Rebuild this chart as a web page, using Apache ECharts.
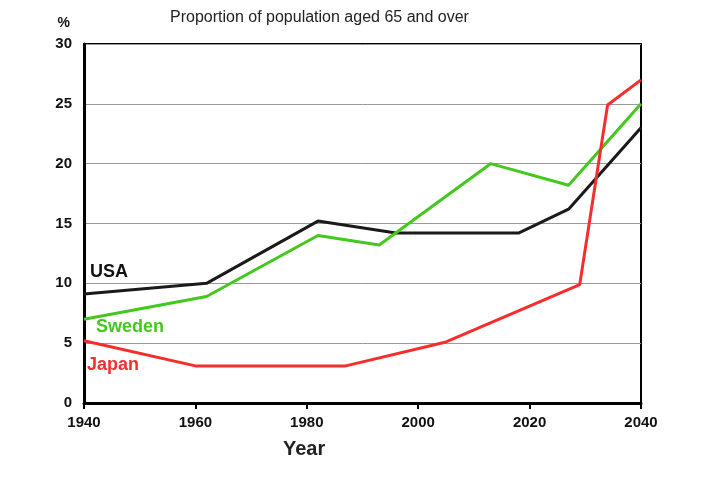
<!DOCTYPE html>
<html>
<head>
<meta charset="utf-8">
<script src="https://cdn.jsdelivr.net/npm/echarts@6/dist/echarts.min.js"></script>
<style>
  html, body { margin: 0; padding: 0; background: #fff; }
  #chart { width: 720px; height: 480px; }
</style>
</head>
<body>
<div id="chart"></div>
<script>
// values
const usaYears = [1940, 1962, 1982, 1996, 2018, 2027, 2040];
const usaValues = [9.1, 10.0, 15.2, 14.2, 14.2, 16.2, 23.0];

const swedenYears = [1940, 1962, 1982, 1993, 2013, 2027, 2040];
const swedenValues = [7.0, 8.9, 14.0, 13.2, 20.0, 18.2, 25.0];

const japanYears = [1940, 1960, 1987, 2005, 2029, 2034, 2040];
const japanValues = [5.2, 3.1, 3.1, 5.1, 9.9, 24.9, 27.0];

const xTicks = [1940, 1960, 1980, 2000, 2020, 2040];

const pairs = (xs, ys) => xs.map((x, i) => [x, ys[i]]);

const chart = echarts.init(document.getElementById('chart'));

const fontFamily = '"Liberation Sans", Arial, sans-serif';

const option = {
    animation: false,
    backgroundColor: '#fff',
    textStyle: { fontFamily: fontFamily },
    grid: {
        left: 84,
        right: 79,
        top: 44,
        bottom: 77,
        show: true,
        borderColor: '#000',
        borderWidth: 2
    },
    xAxis: {
        type: 'value',
        min: xTicks[0],
        max: xTicks[xTicks.length - 1],
        interval: 20,
        axisLine: { show: true, lineStyle: { color: '#000', width: 3 } },
        axisTick: { show: true, length: 6, lineStyle: { color: '#000', width: 2 } },
        axisLabel: {
            color: '#111',
            fontWeight: 'bold',
            fontSize: 15,
            margin: 12,
            formatter: (v) => String(v)
        },
        splitLine: { show: false }
    },
    yAxis: {
        type: 'value',
        min: 0,
        max: 30,
        interval: 5,
        name: '%',
        nameLocation: 'end',
        nameGap: 14,
        nameTextStyle: { color: '#111', fontWeight: 'bold', fontSize: 14, align: 'right', padding: [0, 14, 0, 0] },
        axisLine: { show: true, lineStyle: { color: '#000', width: 3 } },
        axisTick: { show: false },
        axisLabel: { color: '#111', fontWeight: 'bold', fontSize: 15, margin: 12 },
        splitLine: { show: true, lineStyle: { color: '#999', width: 1 } }
    },
    graphic: [
        {
            type: 'text',
            left: 170,
            top: 10,
            style: { text: 'Proportion of population aged 65 and over', font: '16px ' + fontFamily, fill: '#222' }
        },
        {
            type: 'text',
            left: 283,
            top: 439,
            style: { text: 'Year', font: 'bold 20px ' + fontFamily, fill: '#222' }
        },
        {
            type: 'text',
            left: 90,
            top: 263,
            style: { text: 'USA', font: 'bold 18px ' + fontFamily, fill: '#111' }
        },
        {
            type: 'text',
            left: 96,
            top: 318,
            style: { text: 'Sweden', font: 'bold 18px ' + fontFamily, fill: '#44c81e' }
        },
        {
            type: 'text',
            left: 87,
            top: 356,
            style: { text: 'Japan', font: 'bold 18px ' + fontFamily, fill: '#f52d2d' }
        }
    ],
    series: [
        {
            name: 'USA',
            type: 'line',
            data: pairs(usaYears, usaValues),
            showSymbol: false,
            lineStyle: { color: '#1a1a1a', width: 3 },
            z: 3
        },
        {
            name: 'Sweden',
            type: 'line',
            data: pairs(swedenYears, swedenValues),
            showSymbol: false,
            lineStyle: { color: '#44c81e', width: 3 },
            z: 4
        },
        {
            name: 'Japan',
            type: 'line',
            data: pairs(japanYears, japanValues),
            showSymbol: false,
            lineStyle: { color: '#f52d2d', width: 3 },
            z: 5
        }
    ]
};

chart.setOption(option);
</script>
</body>
</html>
